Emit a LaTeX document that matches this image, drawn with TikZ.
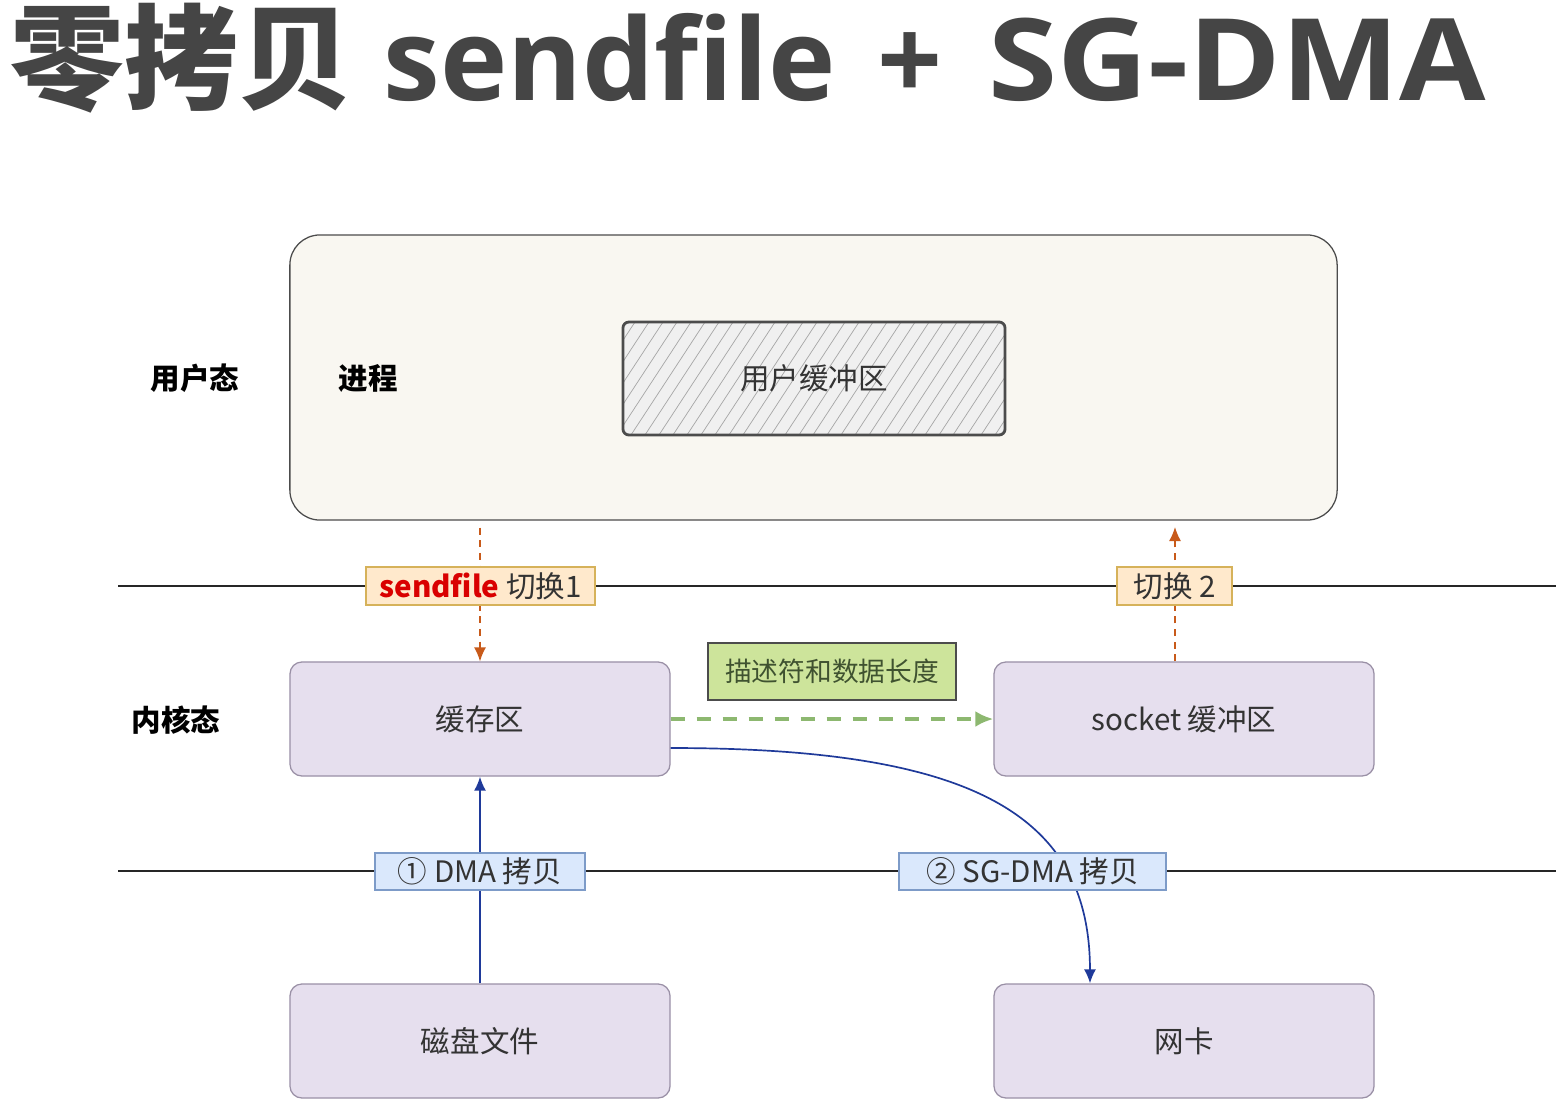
\documentclass[tikz,border=0pt]{standalone}
\usepackage{fontspec}
\setmainfont{Noto Sans CJK SC}
\newfontfamily\headlatin{Open Sans}
\usepackage{xcolor}
\usetikzlibrary{arrows.meta, positioning}
\definecolor{ink}{HTML}{333333}
\definecolor{headline}{HTML}{454545}
\definecolor{procfill}{HTML}{F9F7F1}
\definecolor{kfill}{HTML}{E6DFEE}
\definecolor{kline}{HTML}{9A90A6}
\definecolor{swfill}{HTML}{FFE9CC}
\definecolor{swline}{HTML}{D6B25A}
\definecolor{dmafill}{HTML}{DAE8FC}
\definecolor{dmaline}{HTML}{7D9BC8}
\definecolor{descfill}{HTML}{CDE49B}
\definecolor{desctext}{HTML}{3F5230}
\definecolor{sw}{HTML}{C85A1A}
\definecolor{meta}{HTML}{8DB870}
\definecolor{dma}{HTML}{1F3A9A}

\begin{document}
\begin{tikzpicture}[x=0.025cm, y=-0.025cm, font=\fontsize{21}{25}\selectfont, >={Latex[length=3.5mm, width=3mm]},
    kbox/.style={draw=kline, fill=kfill, rounded corners=0.3cm, line width=0.9pt, minimum width=9.5cm, minimum height=2.85cm, text=ink},
    tag/.style={draw, line width=0.9pt, minimum height=0.95cm, inner xsep=3pt, text=ink},
    side/.style={font=\fontsize{21}{25}\selectfont\bfseries, text=black},
    rule/.style={line width=1.1pt, black!85}]

  \path[fill=white, use as bounding box] (0,0) rectangle (1556,1098);

  \node[anchor=base west, text=headline, inner sep=0pt, font=\fontsize{81}{90}\selectfont\bfseries] (title) at (10,100)
    {零拷贝\hspace{0.28em}{\headlatin\bfseries sendfile\hspace{0.37em}+\hspace{0.4em}\scalebox{1.1}[1]{SG-DMA}}};

  \node[draw=black!70, fill=procfill, rounded corners=0.75cm, line width=0.9pt, minimum width=26.175cm, minimum height=7.125cm] (proc) at (813.5,377.5) {};
  \node[draw=black!70, fill=black!6, rounded corners=0.15cm, line width=2pt, minimum width=9.55cm, minimum height=2.825cm, text=ink,
    path picture={\foreach \k in {0,...,34}
      \draw[black!35, line width=0.5pt] ([xshift=\k*0.35cm-1.9cm]path picture bounding box.south west) -- ++(1.9cm,2.9cm);}] (ubuf) at (814,378.5) {用户缓冲区};
  \node[side] (user) at (195,378) {用户态};
  \node[side] (procname) at (368,378) {进程};

  \node[kbox] (cache) at (480,719) {缓存区};
  \node[kbox] (sock) at (1184,719) {socket 缓冲区};
  \node[kbox] (disk) at (480,1041) {磁盘文件};
  \node[kbox] (nic) at (1184,1041) {网卡};
  \node[side] (kernel) at (176,720) {内核态};

  \coordinate (l1w) at (118,586);
  \coordinate (l1e) at (1556,586);
  \coordinate (l2w) at (118,871);
  \coordinate (l2e) at (1556,871);
  \coordinate (up2) at (1175,527);
  \draw[rule] (l1w) -- (l1e);
  \draw[rule] (l2w) -- (l2e);

  \draw[->, sw, line width=1pt, dash pattern=on 5pt off 4pt] ([yshift=-0.175cm]proc.south -| cache.north) -- (cache.north);
  \draw[->, sw, line width=1pt, dash pattern=on 5pt off 4pt] (sock.north -| up2) -- (up2);
  \draw[->, meta, line width=2.6pt, dash pattern=on 0.35cm off 0.3cm, >={Latex[length=4.5mm, width=4mm]}] (cache.east) -- (sock.west);
  \draw[->, dma, line width=1.2pt] (disk.north) -- (cache.south);
  \draw[->, dma, line width=1.2pt] ([yshift=-0.725cm]cache.east) .. controls +(7.5cm,0) and +(0,4.25cm) .. ([xshift=-2.35cm]nic.north);

  \node[draw=black!70, fill=descfill, line width=0.9pt, minimum width=6.2cm, minimum height=1.425cm, text=desctext, font=\fontsize{19}{23}\selectfont] (desc) at (832,671.5) {描述符和数据长度};

  \node[tag, draw=swline, fill=swfill, minimum width=5.725cm] (sw1) at (480.5,586) {\textcolor{red!85!black}{\bfseries sendfile} 切换1};
  \node[tag, draw=swline, fill=swfill, minimum width=2.875cm] (sw2) at (1174.5,586) {切换 2};
  \node[tag, draw=dmaline, fill=dmafill, minimum width=5.25cm, minimum height=0.925cm] (dma1) at (480,871.5) {① DMA 拷贝};
  \node[tag, draw=dmaline, fill=dmafill, minimum width=6.675cm, minimum height=0.925cm] (dma2) at (1032.5,871.5) {② SG-DMA 拷贝};
\end{tikzpicture}
\end{document}
